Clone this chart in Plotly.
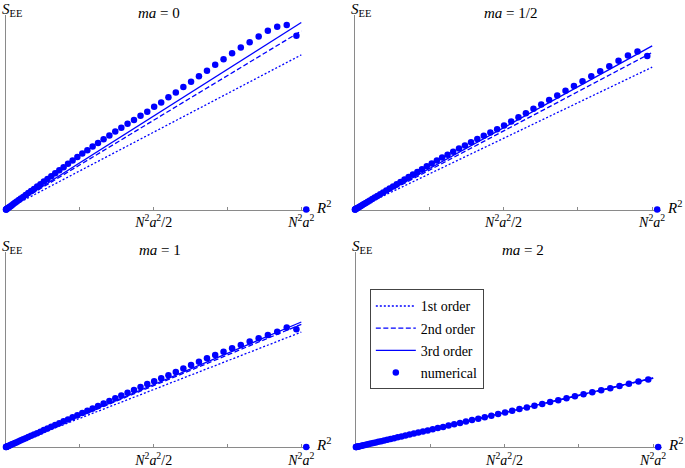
import plotly.graph_objects as go

# R^2 in units of N^2 a^2 (same sampling in every panel)
r2 = [0.0001, 0.0006, 0.0017, 0.0034, 0.0056, 0.0084, 0.0117, 0.0156, 0.0201, 0.0251,
      0.0306, 0.0367, 0.0434, 0.0506, 0.0584, 0.0667, 0.0756, 0.0851, 0.0951, 0.1056,
      0.1167, 0.1284, 0.1406, 0.1534, 0.1667, 0.1806, 0.1951, 0.2101, 0.2256, 0.2417,
      0.2584, 0.2756, 0.2934, 0.3117, 0.3306, 0.3501, 0.3701, 0.3906, 0.4117, 0.4334,
      0.4556, 0.4784, 0.5017, 0.5256, 0.5501, 0.5751, 0.6006, 0.6267, 0.6534, 0.6806,
      0.7084, 0.7367, 0.7656, 0.7951, 0.8251, 0.8556, 0.8867, 0.9184, 0.9506, 0.9834,
      1.0167]

# numerical S_EE (arbitrary units)
see_ma0 = [0.0, 0.1, 0.4, 0.7, 1.2, 1.8, 2.6, 3.4, 4.4, 5.5,
           6.7, 8.0, 9.5, 11.0, 12.7, 14.5, 16.5, 18.6, 20.7, 23.0,
           25.4, 28.0, 30.7, 33.4, 36.3, 39.4, 42.5, 45.8, 49.2, 52.7,
           56.1, 59.5, 63.1, 66.7, 70.4, 74.2, 78.1, 82.0, 86.1, 89.7,
           93.9, 98.1, 103.0, 107.3, 112.6, 117.3, 122.7, 128.0, 133.7, 139.0,
           145.0, 150.7, 156.7, 162.3, 167.7, 173.3, 179.3, 183.3, 185.0, 174.3,
           0.0]
see_ma05 = [0.0, 0.1, 0.3, 0.6, 1.0, 1.5, 2.1, 2.8, 3.6, 4.5,
            5.5, 6.6, 7.8, 9.1, 10.5, 12.0, 13.6, 15.3, 17.1, 19.0,
            21.0, 23.1, 25.3, 27.6, 30.0, 32.5, 35.1, 37.7, 40.4, 43.3,
            46.1, 49.1, 52.1, 55.0, 58.0, 61.1, 64.2, 67.4, 70.6, 73.9,
            77.2, 80.6, 84.3, 88.3, 92.4, 96.6, 100.9, 105.3, 109.8, 114.3,
            119.0, 123.8, 128.6, 133.6, 138.6, 143.7, 149.0, 154.3, 158.3, 154.0,
            0.0]
see_ma1 = [0.0, 0.1, 0.2, 0.5, 0.7, 1.1, 1.6, 2.1, 2.7, 3.3,
           4.0, 4.8, 5.7, 6.7, 7.7, 8.8, 10.0, 11.2, 12.6, 13.9,
           15.4, 17.0, 18.6, 20.3, 22.0, 23.8, 25.8, 27.7, 29.8, 31.9,
           34.1, 36.4, 38.7, 41.1, 43.6, 46.2, 48.9, 51.6, 54.3, 57.2,
           60.1, 63.2, 65.9, 69.0, 72.0, 75.3, 78.7, 82.1, 85.6, 88.9,
           92.3, 95.6, 99.0, 102.3, 105.7, 109.0, 112.2, 115.5, 119.7, 118.0,
           0.0]
see_ma2 = [0.0, 0.0, 0.1, 0.2, 0.4, 0.6, 0.8, 1.1, 1.4, 1.7,
           2.1, 2.5, 3.0, 3.5, 4.0, 4.6, 5.2, 5.9, 6.6, 7.3,
           8.1, 8.9, 9.7, 10.6, 11.5, 12.5, 13.5, 14.5, 15.6, 16.7,
           17.8, 19.0, 20.2, 21.5, 22.8, 24.2, 25.5, 27.0, 28.4, 29.9,
           31.4, 33.0, 34.6, 36.3, 38.0, 39.7, 41.4, 43.2, 45.1, 47.0,
           48.9, 50.8, 52.8, 54.9, 56.9, 59.0, 61.2, 63.4, 65.6, 67.6,
           0.0]

# perturbative results: straight lines from origin to R^2 = N^2 a^2
r2_line = [0, 1]
order1 = {"ma0": [0, 155.0], "ma05": [0, 142.7], "ma1": [0, 115.2], "ma2": [0, 68.8]}
order2 = {"ma0": [0, 179.0], "ma05": [0, 157.5], "ma1": [0, 123.0], "ma2": [0, 69.0]}
order3 = {"ma0": [0, 187.5], "ma05": [0, 164.0], "ma1": [0, 125.3], "ma2": [0, 69.2]}
numerical = {"ma0": see_ma0, "ma05": see_ma05, "ma1": see_ma1, "ma2": see_ma2}

titles = {"ma0": "<i>ma</i> = 0", "ma05": "<i>ma</i> = 1/2", "ma1": "<i>ma</i> = 1", "ma2": "<i>ma</i> = 2"}
xticks = [0.5, 1.0]
xticktext = ["<i>N</i><sup>2</sup><i>a</i><sup>2</sup>/2", "<i>N</i><sup>2</sup><i>a</i><sup>2</sup>"]

W, H = 685, 468
FONT = "Liberation Serif"
BLUE = "#0000ff"
AXC = "#8a8a8a"

# panel key, axis suffix, x-domain px, origin y px, title centre x px
panels = [
    ("ma0", "", (6, 312), 210, 160),
    ("ma05", "2", (357, 665), 210, 514),
    ("ma1", "3", (6, 312), 448, 161),
    ("ma2", "4", (358, 666), 448, 526),
]
YTOP = 195

fig = go.Figure()
annotations = []
layout = {}

for key, sfx, (x0, x1), oy, tx in panels:
    xa = "x" + sfx
    ya = "y" + sfx
    show = key == "ma2"
    fig.add_trace(go.Scatter(x=r2_line, y=order1[key], mode="lines", xaxis=xa, yaxis=ya,
                             line=dict(color=BLUE, width=1.3, dash="2px,2px"),
                             name="1st order", showlegend=show, legendgroup="a", legendrank=1))
    fig.add_trace(go.Scatter(x=r2_line, y=order2[key], mode="lines", xaxis=xa, yaxis=ya,
                             line=dict(color=BLUE, width=1.3, dash="5px,2.5px"),
                             name="2nd order", showlegend=show, legendgroup="b", legendrank=2))
    fig.add_trace(go.Scatter(x=r2_line, y=order3[key], mode="lines", xaxis=xa, yaxis=ya,
                             line=dict(color=BLUE, width=1.3),
                             name="3rd order", showlegend=show, legendgroup="c", legendrank=3))
    fig.add_trace(go.Scatter(x=r2, y=numerical[key], mode="markers", xaxis=xa, yaxis=ya,
                             marker=dict(color=BLUE, size=6.5), cliponaxis=False,
                             name="numerical", showlegend=show, legendgroup="d", legendrank=4))

    layout["xaxis" + sfx] = dict(
        domain=[x0 / W, x1 / W], range=[0, 1.03], anchor=ya, layer="below traces",
        showgrid=False, zeroline=False, showline=True, linecolor=AXC, linewidth=1,
        ticks="inside", ticklen=3, tickcolor=AXC, tickwidth=1,
        tickvals=xticks, ticktext=xticktext,
        minor=dict(tickvals=[0.25, 0.75], ticks="inside", ticklen=3, tickcolor=AXC, showgrid=False),
        tickfont=dict(family=FONT, size=14, color="black"),
    )
    layout["yaxis" + sfx] = dict(
        domain=[(H - oy) / H, (H - oy + YTOP) / H], range=[0, YTOP], anchor=xa, layer="below traces",
        showgrid=False, zeroline=False, showline=True, linecolor=AXC, linewidth=1,
        showticklabels=False, ticks="",
    )
    annotations.append(dict(xref="paper", yref="paper", x=tx / W, y=(H - oy + 197) / H,
                            text=titles[key], showarrow=False, xanchor="center", yanchor="middle",
                            font=dict(family=FONT, size=15, color="black")))
    annotations.append(dict(xref="paper", yref="paper", x=(x0 - 6) / W, y=(H - oy + 200) / H,
                            text="<i>S</i><sub>EE</sub>", showarrow=False, xanchor="left",
                            yanchor="middle", font=dict(family=FONT, size=15, color="black")))
    annotations.append(dict(xref="paper", yref="paper", x=(x1 + 4) / W, y=(H - oy + 3) / H,
                            text="<i>R</i><sup>2</sup>", showarrow=False, xanchor="left",
                            yanchor="middle", font=dict(family=FONT, size=15, color="black")))

fig.update_layout(
    width=W, height=H,
    margin=dict(l=0, r=0, t=0, b=0),
    paper_bgcolor="white", plot_bgcolor="white",
    annotations=annotations,
    legend=dict(x=372 / W, y=(H - 290) / H, xanchor="left", yanchor="top",
                bordercolor="#444", borderwidth=1, bgcolor="white",
                font=dict(family=FONT, size=14, color="black"),
                tracegroupgap=1, itemwidth=40),
    **layout,
)

fig.write_html("out.html", config={"displayModeBar": False},
               post_script="document.body.style.margin='0';")
